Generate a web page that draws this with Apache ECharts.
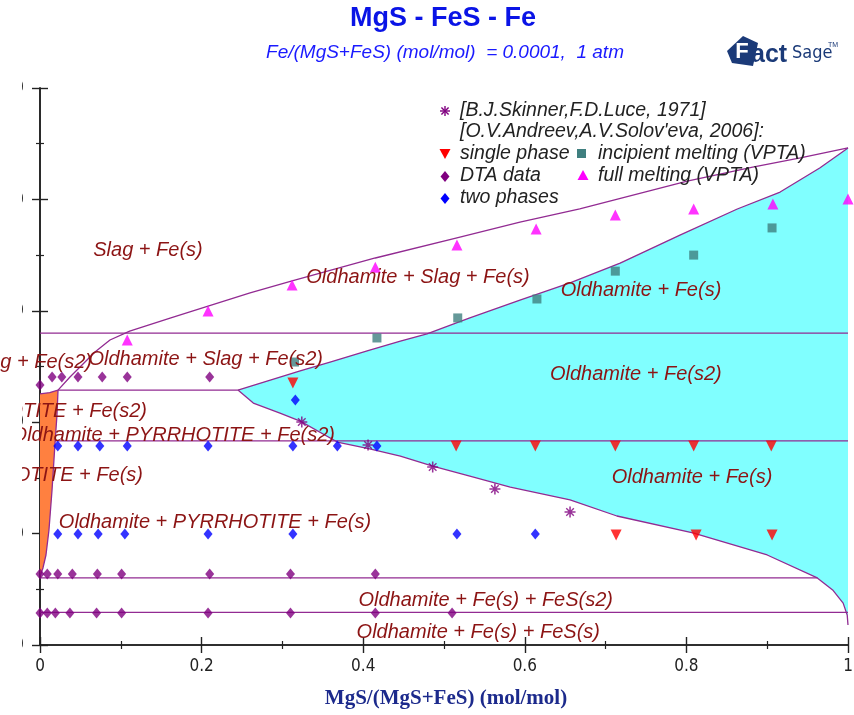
<!DOCTYPE html>
<html>
<head>
<meta charset="utf-8">
<script src="https://cdn.jsdelivr.net/npm/echarts@6/dist/echarts.min.js"></script>
<style>
  html, body { margin: 0; padding: 0; background: #ffffff; }
  #chart { width: 854px; height: 715px; }
</style>
</head>
<body>
<div id="chart"></div>
<script>
// Axes: composition MgS/(MgS+FeS) and temperature (°C)
const xTickValues = [0, 0.2, 0.4, 0.6, 0.8, 1];
const tTickValues = [0, 500, 1000, 1500, 2000, 2500];

// Phase boundaries, [x, T]
const liquidus = [[0.0223,1144],[0.0371,1203],[0.052,1257],[0.068,1315],[0.0866,1369],[0.111,1409],
  [0.161,1467],[0.208,1521],[0.26,1580],[0.312,1634],[0.415,1737],[0.516,1827],[0.594,1898],
  [0.668,1957],[0.801,2082],[0.882,2145],[0.941,2186],[1,2231]];
const oldhamiteUpper = [[0.245,1144],[0.285,1189],[0.322,1230],[0.359,1270],[0.408,1324],[0.446,1364],
  [0.479,1396],[0.532,1468],[0.594,1548],[0.656,1625],[0.718,1714],[0.792,1840],[0.863,1957],
  [0.916,2033],[0.965,2141],[1,2231]];
const oldhamiteLower = [[0.245,1144],[0.264,1086],[0.297,1041],[0.322,1005],[0.368,911],[0.408,880],
  [0.446,848],[0.486,803],[0.532,758],[0.582,709],[0.656,651],[0.714,579],[0.808,503],[0.9,404],
  [0.962,301],[0.981,247],[0.994,188],[0.999,135],[1,90]];
const pyrrhotiteTop = [[0,1127],[0.012,1133],[0.0223,1144]];
const pyrrhotiteEdge = [[0.0223,1144],[0.021,1032],[0.0186,907],[0.0149,696],[0.0111,516],
  [0.0074,404],[0.0037,346],[0.0006,314]];

// Invariant temperatures and their extent in x
const isothermT = [1400, 1144, 916, 301, 146];
const isothermFrom = [0, 0.0223, 0.0186, 0, 0];
const isothermTo = [1, 0.245, 1, 0.962, 1];

// Experimental points
const skinnerLuce = [[0.324,1001],[0.406,898],[0.486,799],[0.563,700],[0.656,597]];
const singlePhase = [[0.313,1176],[0.515,893],[0.613,893],[0.712,893],[0.809,893],[0.905,893],
  [0.713,494],[0.812,494],[0.906,494]];
const incipientMelting = [[0.315,1270],[0.417,1378],[0.517,1468],[0.615,1553],[0.712,1678],
  [0.809,1750],[0.906,1872]];
const dtaData = [[0,1167],[0.015,1203],[0.027,1203],[0.047,1203],[0.077,1203],[0.108,1203],[0.21,1203],
  [0,319],[0.009,319],[0.022,319],[0.04,319],[0.071,319],[0.101,319],[0.21,319],[0.31,319],[0.415,319],
  [0,144],[0.009,144],[0.019,144],[0.037,144],[0.07,144],[0.101,144],[0.208,144],[0.31,144],[0.415,144],[0.51,144]];
const fullMelting = [[0.108,1369],[0.208,1499],[0.312,1616],[0.415,1696],[0.516,1795],[0.614,1867],
  [0.712,1930],[0.809,1957],[0.907,1979],[1,2002]];
const twoPhases = [[0.316,1100],[0.022,893],[0.047,893],[0.074,893],[0.108,893],[0.208,893],[0.313,893],
  [0.368,893],[0.417,893],[0.022,498],[0.047,498],[0.072,498],[0.105,498],[0.208,498],[0.313,498],
  [0.516,498],[0.613,498]];

const PURPLE_LINE = '#922b92';
const FIELD_TEXT = '#8c1414';
const LABEL_FONT = 'italic 20px "Liberation Sans", Arial, sans-serif';
const LEGEND_FONT = 'italic 19.5px "Liberation Sans", Arial, sans-serif';
const NARROW = '"Liberation Sans Narrow", "DejaVu Sans Condensed", sans-serif';
const ASTERISK = 'path://M-0.7,-5L0.7,-5L0.7,5L-0.7,5Z M-5,-0.7L5,-0.7L5,0.7L-5,0.7Z M-3.9,-3.0L-3.0,-3.9L3.9,3.0L3.0,3.9Z M3.0,-3.9L3.9,-3.0L-3.0,3.9L-3.9,3.0Z';

const chart = echarts.init(document.getElementById('chart'), null, { renderer: 'canvas' });

function boundary(data) {
  return { type: 'line', data: data, showSymbol: false, silent: true, z: 3,
    lineStyle: { color: PURPLE_LINE, width: 1.3 }, animation: false };
}
function field(points, color) {
  return { type: 'custom', coordinateSystem: 'cartesian2d', data: [[0, 0]], silent: true, z: 1,
    renderItem: function (params, api) {
      return { type: 'polygon', shape: { points: points.map(function (p) { return api.coord(p); }) },
               style: { fill: color } };
    } };
}
function markers(data, symbol, size, color, rotate) {
  return { type: 'scatter', data: data, symbol: symbol, symbolSize: size, symbolRotate: rotate || 0,
    itemStyle: { color: color }, z: 4, silent: true, animation: false };
}

const series = [
  field(oldhamiteUpper.concat(oldhamiteLower.slice().reverse()), '#80ffff'),
  field(pyrrhotiteTop.concat(pyrrhotiteEdge.slice(1), [[0, 300]]), '#ff8040'),
  boundary(liquidus), boundary(oldhamiteUpper), boundary(oldhamiteLower),
  boundary(pyrrhotiteTop), boundary(pyrrhotiteEdge)
];
isothermT.forEach(function (t, i) {
  series.push(boundary([[isothermFrom[i], t], [isothermTo[i], t]]));
});
series.push(
  markers(skinnerLuce, ASTERISK, 11, '#800080'),
  markers(singlePhase, 'triangle', 11, '#ff0000', 180),
  markers(incipientMelting, 'rect', 9, '#3f7f7f'),
  markers(dtaData, 'diamond', [9, 11], '#800080'),
  markers(fullMelting, 'triangle', 11, '#ff00ff'),
  markers(twoPhases, 'diamond', [9, 11], '#0000ff')
);

function tickAxisBase(extra) {
  return Object.assign({
    type: 'value',
    axisLine: { show: true, lineStyle: { color: '#222', width: 1.6 } },
    axisTick: { show: true, inside: true, length: 8, lineStyle: { color: '#222', width: 1.4 } },
    minorTick: { show: true, splitNumber: 2, length: 4, lineStyle: { color: '#222', width: 1.2 } },
    splitLine: { show: false }
  }, extra);
}

// Field labels
function fieldLabel(text, x, y, align) {
  return { type: 'text', x: x, y: y, z: 10, silent: true,
    style: { text: text, fill: FIELD_TEXT, font: LABEL_FONT, textAlign: align || 'center', textVerticalAlign: 'middle' } };
}
function legendText(text, x, y) {
  return { type: 'text', x: x, y: y, z: 10, silent: true,
    style: { text: text, fill: '#222', font: LEGEND_FONT, textAlign: 'left', textVerticalAlign: 'middle' } };
}
function spoke(cx, cy, dx, dy) {
  return { type: 'line', z: 10, silent: true, shape: { x1: cx - dx, y1: cy - dy, x2: cx + dx, y2: cy + dy },
    style: { stroke: '#800080', lineWidth: 1.4 } };
}
function marginStrip(y0, y1) {
  return { type: 'rect', z: 20, silent: true, shape: { x: 0, y: y0, width: 22, height: y1 - y0 }, style: { fill: '#ffffff' } };
}

const graphics = [
  { type: 'text', x: 443, y: 19, z: 10, style: { text: 'MgS - FeS - Fe', fill: '#0a14e6',
      font: 'bold 27px "Liberation Sans", Arial, sans-serif', textAlign: 'center', textVerticalAlign: 'middle' } },
  { type: 'text', x: 445, y: 53, z: 10, style: { text: 'Fe/(MgS+FeS) (mol/mol)  = 0.0001,  1 atm', fill: '#1a1aff',
      font: 'italic 19px "Liberation Sans", Arial, sans-serif', textAlign: 'center', textVerticalAlign: 'middle' } },
  { type: 'text', x: 446, y: 699, z: 10, style: { text: 'MgS/(MgS+FeS) (mol/mol)', fill: '#1c2a8c',
      font: 'bold 21px "Liberation Serif", "Times New Roman", serif', textAlign: 'center', textVerticalAlign: 'middle' } },

  // FactSage mark
  { type: 'polygon', z: 10, shape: { points: [[727, 51], [743, 36], [758, 43], [753, 66], [732, 63]] }, style: { fill: '#1b3a78' } },
  { type: 'text', x: 742, y: 52, z: 11, style: { text: 'F', fill: '#ffffff', font: 'bold 22px "Liberation Sans", Arial, sans-serif',
      textAlign: 'center', textVerticalAlign: 'middle' } },
  { type: 'text', x: 751, y: 55, z: 11, style: { text: 'act', fill: '#1b3a78', font: 'bold 25px "Liberation Sans", Arial, sans-serif',
      textAlign: 'left', textVerticalAlign: 'middle' } },
  { type: 'text', x: 792, y: 53, z: 11, style: { text: 'Sage', fill: '#1b3a78', font: '18px ' + NARROW,
      textAlign: 'left', textVerticalAlign: 'middle' } },
  { type: 'text', x: 828, y: 45, z: 11, style: { text: 'TM', fill: '#1b3a78', font: '7px "Liberation Sans", Arial, sans-serif',
      textAlign: 'left', textVerticalAlign: 'middle' } },

  fieldLabel('Slag + Fe(s)', 148, 250),
  fieldLabel('Oldhamite + Slag + Fe(s)', 418, 277),
  fieldLabel('Oldhamite + Fe(s)', 641, 290),
  fieldLabel('Slag + Fe(s2)', 92, 362, 'right'),
  fieldLabel('Oldhamite + Slag + Fe(s2)', 323, 359, 'right'),
  fieldLabel('Oldhamite + Fe(s2)', 550, 374, 'left'),
  fieldLabel('PYRRHOTITE + Fe(s2)', 147, 411, 'right'),
  fieldLabel('Oldhamite + PYRRHOTITE + Fe(s2)', 335, 435, 'right'),
  fieldLabel('PYRRHOTITE + Fe(s)', 143, 475, 'right'),
  fieldLabel('Oldhamite + Fe(s)', 692, 477),
  fieldLabel('Oldhamite + PYRRHOTITE + Fe(s)', 215, 522),
  fieldLabel('Oldhamite + Fe(s) + FeS(s2)', 613, 600, 'right'),
  fieldLabel('Oldhamite + Fe(s) + FeS(s)', 600, 632, 'right'),

  // blank left margin (the temperature scale is not shown)
  marginStrip(70, 349),
  marginStrip(374, 660),

  // legend
  spoke(445, 111, 0, 5), spoke(445, 111, 5, 0), spoke(445, 111, 3.6, 3.6), spoke(445, 111, 3.6, -3.6),
  legendText('[B.J.Skinner,F.D.Luce, 1971]', 460, 111),
  legendText("[O.V.Andreev,A.V.Solov'eva, 2006]:", 460, 132),
  { type: 'polygon', z: 10, shape: { points: [[439.5, 149], [450.5, 149], [445, 159]] }, style: { fill: '#ff0000' } },
  legendText('single phase', 460, 154),
  { type: 'rect', z: 10, shape: { x: 577, y: 149, width: 9, height: 9 }, style: { fill: '#3f7f7f' } },
  legendText('incipient melting (VPTA)', 598, 154),
  { type: 'polygon', z: 10, shape: { points: [[445, 171], [449.5, 176.5], [445, 182], [440.5, 176.5]] }, style: { fill: '#800080' } },
  legendText('DTA data', 460, 176),
  { type: 'polygon', z: 10, shape: { points: [[583, 170], [588.5, 180], [577.5, 180]] }, style: { fill: '#ff00ff' } },
  legendText('full melting (VPTA)', 598, 176),
  { type: 'polygon', z: 10, shape: { points: [[445, 193], [449.5, 198.5], [445, 204], [440.5, 198.5]] }, style: { fill: '#0000ff' } },
  legendText('two phases', 460, 198)
];

chart.setOption({
  animation: false,
  backgroundColor: '#ffffff',
  grid: { left: 40, right: 6, top: 88, bottom: 70, containLabel: false, outerBoundsMode: 'none' },
  xAxis: [
    tickAxisBase({ position: 'bottom', min: xTickValues[0], max: xTickValues[xTickValues.length - 1], interval: 0.2,
      axisLabel: { show: true, margin: 13, color: '#222', fontSize: 17, fontFamily: NARROW,
        formatter: function (v) { return xTickValues.indexOf(+v.toFixed(1)) >= 0 ? String(+v.toFixed(1)) : ''; } } }),
    tickAxisBase({ position: 'top', min: 0, max: 1, interval: 0.2, axisLabel: { show: false } })
  ],
  yAxis: [
    tickAxisBase({ position: 'left', min: tTickValues[0], max: tTickValues[tTickValues.length - 1], interval: 500,
      axisLabel: { show: true, margin: 16, color: '#222', fontSize: 16, fontFamily: NARROW } }),
    tickAxisBase({ position: 'right', min: 0, max: 2500, interval: 500, axisLabel: { show: false } })
  ],
  series: series,
  graphic: graphics
});
</script>
</body>
</html>
